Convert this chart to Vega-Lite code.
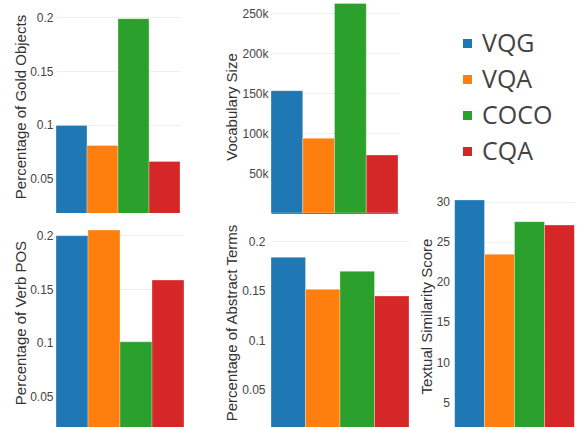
{
  "$schema": "https://vega.github.io/schema/vega-lite/v6.json",
  "padding": {"left": 13, "top": 0, "right": 0, "bottom": 0},
  "background": "white",
  "datasets": {
    "bars": [
      {"metric": "gold", "dataset": "VQG", "value": 0.0993},
      {"metric": "gold", "dataset": "VQA", "value": 0.0807},
      {"metric": "gold", "dataset": "COCO", "value": 0.1988},
      {"metric": "gold", "dataset": "CQA", "value": 0.0658},
      {"metric": "vocab", "dataset": "VQG", "value": 152900},
      {"metric": "vocab", "dataset": "VQA", "value": 93400},
      {"metric": "vocab", "dataset": "COCO", "value": 262000},
      {"metric": "vocab", "dataset": "CQA", "value": 72500},
      {"metric": "verb", "dataset": "VQG", "value": 0.1998},
      {"metric": "verb", "dataset": "VQA", "value": 0.2051},
      {"metric": "verb", "dataset": "COCO", "value": 0.101},
      {"metric": "verb", "dataset": "CQA", "value": 0.1585},
      {"metric": "abstract", "dataset": "VQG", "value": 0.1837},
      {"metric": "abstract", "dataset": "VQA", "value": 0.1514},
      {"metric": "abstract", "dataset": "COCO", "value": 0.1696},
      {"metric": "abstract", "dataset": "CQA", "value": 0.1447},
      {"metric": "similarity", "dataset": "VQG", "value": 30.2},
      {"metric": "similarity", "dataset": "VQA", "value": 23.43},
      {"metric": "similarity", "dataset": "COCO", "value": 27.5},
      {"metric": "similarity", "dataset": "CQA", "value": 27.08}
    ]
  },
  "data": {"name": "bars"},
  "spacing": 10.5,
  "resolve": {"scale": {"x": "independent", "y": "independent", "color": "shared"}, "legend": {"color": "shared"}},
  "hconcat": [
    {
      "spacing": 40,
      "resolve": {"scale": {"x": "independent", "y": "independent", "color": "shared"}, "legend": {"color": "shared"}},
      "hconcat": [
        {
          "spacing": 5,
          "resolve": {"scale": {"x": "independent", "y": "independent", "color": "shared"}, "legend": {"color": "shared"}},
          "vconcat": [
            {
              "width": 124, "height": 213,
              "transform": [{"filter": "datum.metric === 'gold'"}],
              "mark": {"type": "bar", "clip": true, "stroke": "white", "strokeWidth": 0.6, "strokeOpacity": 0.5},
              "encoding": {
                "x": {"field": "dataset", "type": "nominal", "sort": ["VQG", "VQA", "COCO", "CQA"], "scale": {"paddingInner": 0, "paddingOuter": 0}, "axis": null},
                "y": {"field": "value", "type": "quantitative", "scale": {"domain": [0.0177, 0.2162], "zero": false, "nice": false},
                  "axis": {"values": [0.05, 0.1, 0.15, 0.2], "format": "~g", "title": "Percentage of Gold Objects", "labelPadding": 3, "minExtent": 24, "maxExtent": 24, "titlePadding": 4}},
                "color": {"field": "dataset", "type": "nominal", "sort": ["VQG", "VQA", "COCO", "CQA"], "scale": {"domain": ["VQG", "VQA", "COCO", "CQA"], "range": ["#1f77b4", "#ff7f0e", "#2ca02c", "#d62728"]}}
              }
            },
            {
              "width": 128, "height": 209,
              "transform": [{"filter": "datum.metric === 'verb'"}],
              "mark": {"type": "bar", "clip": true, "stroke": "white", "strokeWidth": 0.6, "strokeOpacity": 0.5},
              "encoding": {
                "x": {"field": "dataset", "type": "nominal", "sort": ["VQG", "VQA", "COCO", "CQA"], "scale": {"paddingInner": 0, "paddingOuter": 0}, "axis": null},
                "y": {"field": "value", "type": "quantitative", "scale": {"domain": [0.0216, 0.2163], "zero": false, "nice": false},
                  "axis": {"values": [0.05, 0.1, 0.15, 0.2], "format": "~g", "title": "Percentage of Verb POS", "labelPadding": 3, "minExtent": 24, "maxExtent": 24, "titlePadding": 4}},
                "color": {"field": "dataset", "type": "nominal", "sort": ["VQG", "VQA", "COCO", "CQA"], "scale": {"domain": ["VQG", "VQA", "COCO", "CQA"], "range": ["#1f77b4", "#ff7f0e", "#2ca02c", "#d62728"]}}
              }
            }
          ]
        },
        {
          "spacing": 5,
          "resolve": {"scale": {"x": "independent", "y": "independent", "color": "shared"}, "legend": {"color": "shared"}},
          "vconcat": [
            {
              "width": 127, "height": 213,
              "transform": [{"filter": "datum.metric === 'vocab'"}],
              "mark": {"type": "bar", "clip": true, "stroke": "white", "strokeWidth": 0.6, "strokeOpacity": 0.5},
              "encoding": {
                "x": {"field": "dataset", "type": "nominal", "sort": ["VQG", "VQA", "COCO", "CQA"], "scale": {"paddingInner": 0, "paddingOuter": 0},
                  "axis": {"labels": false, "ticks": false, "title": null, "domain": true, "domainColor": "#777", "domainWidth": 1, "grid": false, "minExtent": 0, "maxExtent": 0}},
                "y": {"field": "value", "type": "quantitative", "scale": {"domain": [0, 266250], "zero": false, "nice": false},
                  "axis": {"values": [50000, 100000, 150000, 200000, 250000], "format": "~s", "title": "Vocabulary Size", "labelPadding": 3, "minExtent": 27.5, "maxExtent": 27.5, "titlePadding": 4}},
                "color": {"field": "dataset", "type": "nominal", "sort": ["VQG", "VQA", "COCO", "CQA"], "scale": {"domain": ["VQG", "VQA", "COCO", "CQA"], "range": ["#1f77b4", "#ff7f0e", "#2ca02c", "#d62728"]}}
              }
            },
            {
              "width": 138, "height": 209,
              "transform": [{"filter": "datum.metric === 'abstract'"}],
              "mark": {"type": "bar", "clip": true, "stroke": "white", "strokeWidth": 0.6, "strokeOpacity": 0.5},
              "encoding": {
                "x": {"field": "dataset", "type": "nominal", "sort": ["VQG", "VQA", "COCO", "CQA"], "scale": {"paddingInner": 0, "paddingOuter": 0}, "axis": null},
                "y": {"field": "value", "type": "quantitative", "scale": {"domain": [0.0125, 0.2234], "zero": false, "nice": false},
                  "axis": {"values": [0.05, 0.1, 0.15, 0.2], "format": "~g", "title": "Percentage of Abstract Terms", "labelPadding": 6, "minExtent": 27.5, "maxExtent": 27.5, "titlePadding": 4}},
                "color": {"field": "dataset", "type": "nominal", "sort": ["VQG", "VQA", "COCO", "CQA"], "scale": {"domain": ["VQG", "VQA", "COCO", "CQA"], "range": ["#1f77b4", "#ff7f0e", "#2ca02c", "#d62728"]}}
              }
            }
          ]
        }
      ]
    },
    {
      "width": 120, "height": 427,
      "transform": [{"filter": "datum.metric === 'similarity'"}],
      "mark": {"type": "bar", "clip": true, "stroke": "white", "strokeWidth": 0.6, "strokeOpacity": 0.5},
      "encoding": {
        "x": {"field": "dataset", "type": "nominal", "sort": ["VQG", "VQA", "COCO", "CQA"], "scale": {"paddingInner": 0, "paddingOuter": 0}, "axis": null},
        "y": {"field": "value", "type": "quantitative", "scale": {"domain": [1.91, 55.12], "zero": false, "nice": false},
          "axis": {"values": [5, 10, 15, 20, 25, 30], "format": "d", "title": "Textual Similarity Score", "titleY": 316, "labelPadding": 5, "minExtent": 16, "maxExtent": 16, "titlePadding": 4}},
        "color": {"field": "dataset", "type": "nominal", "sort": ["VQG", "VQA", "COCO", "CQA"], "scale": {"domain": ["VQG", "VQA", "COCO", "CQA"], "range": ["#1f77b4", "#ff7f0e", "#2ca02c", "#d62728"]}}
      }
    }
  ],
  "config": {
    "view": {"stroke": null},
    "axis": {"labelFont": "Liberation Sans", "titleFont": "Liberation Sans", "labelFontSize": 12, "titleFontSize": 15, "titleFontWeight": "normal", "labelColor": "#444", "titleColor": "#333", "gridColor": "#efefef", "domain": false, "ticks": false},
    "legend": {"orient": "none", "legendX": 399, "legendY": 31, "title": null, "symbolType": "square", "symbolSize": 81, "symbolStrokeWidth": 0, "labelFontSize": 25, "labelFont": "Open Sans", "labelColor": "#444", "rowPadding": 10, "labelOffset": 2, "padding": 0}
  }
}
